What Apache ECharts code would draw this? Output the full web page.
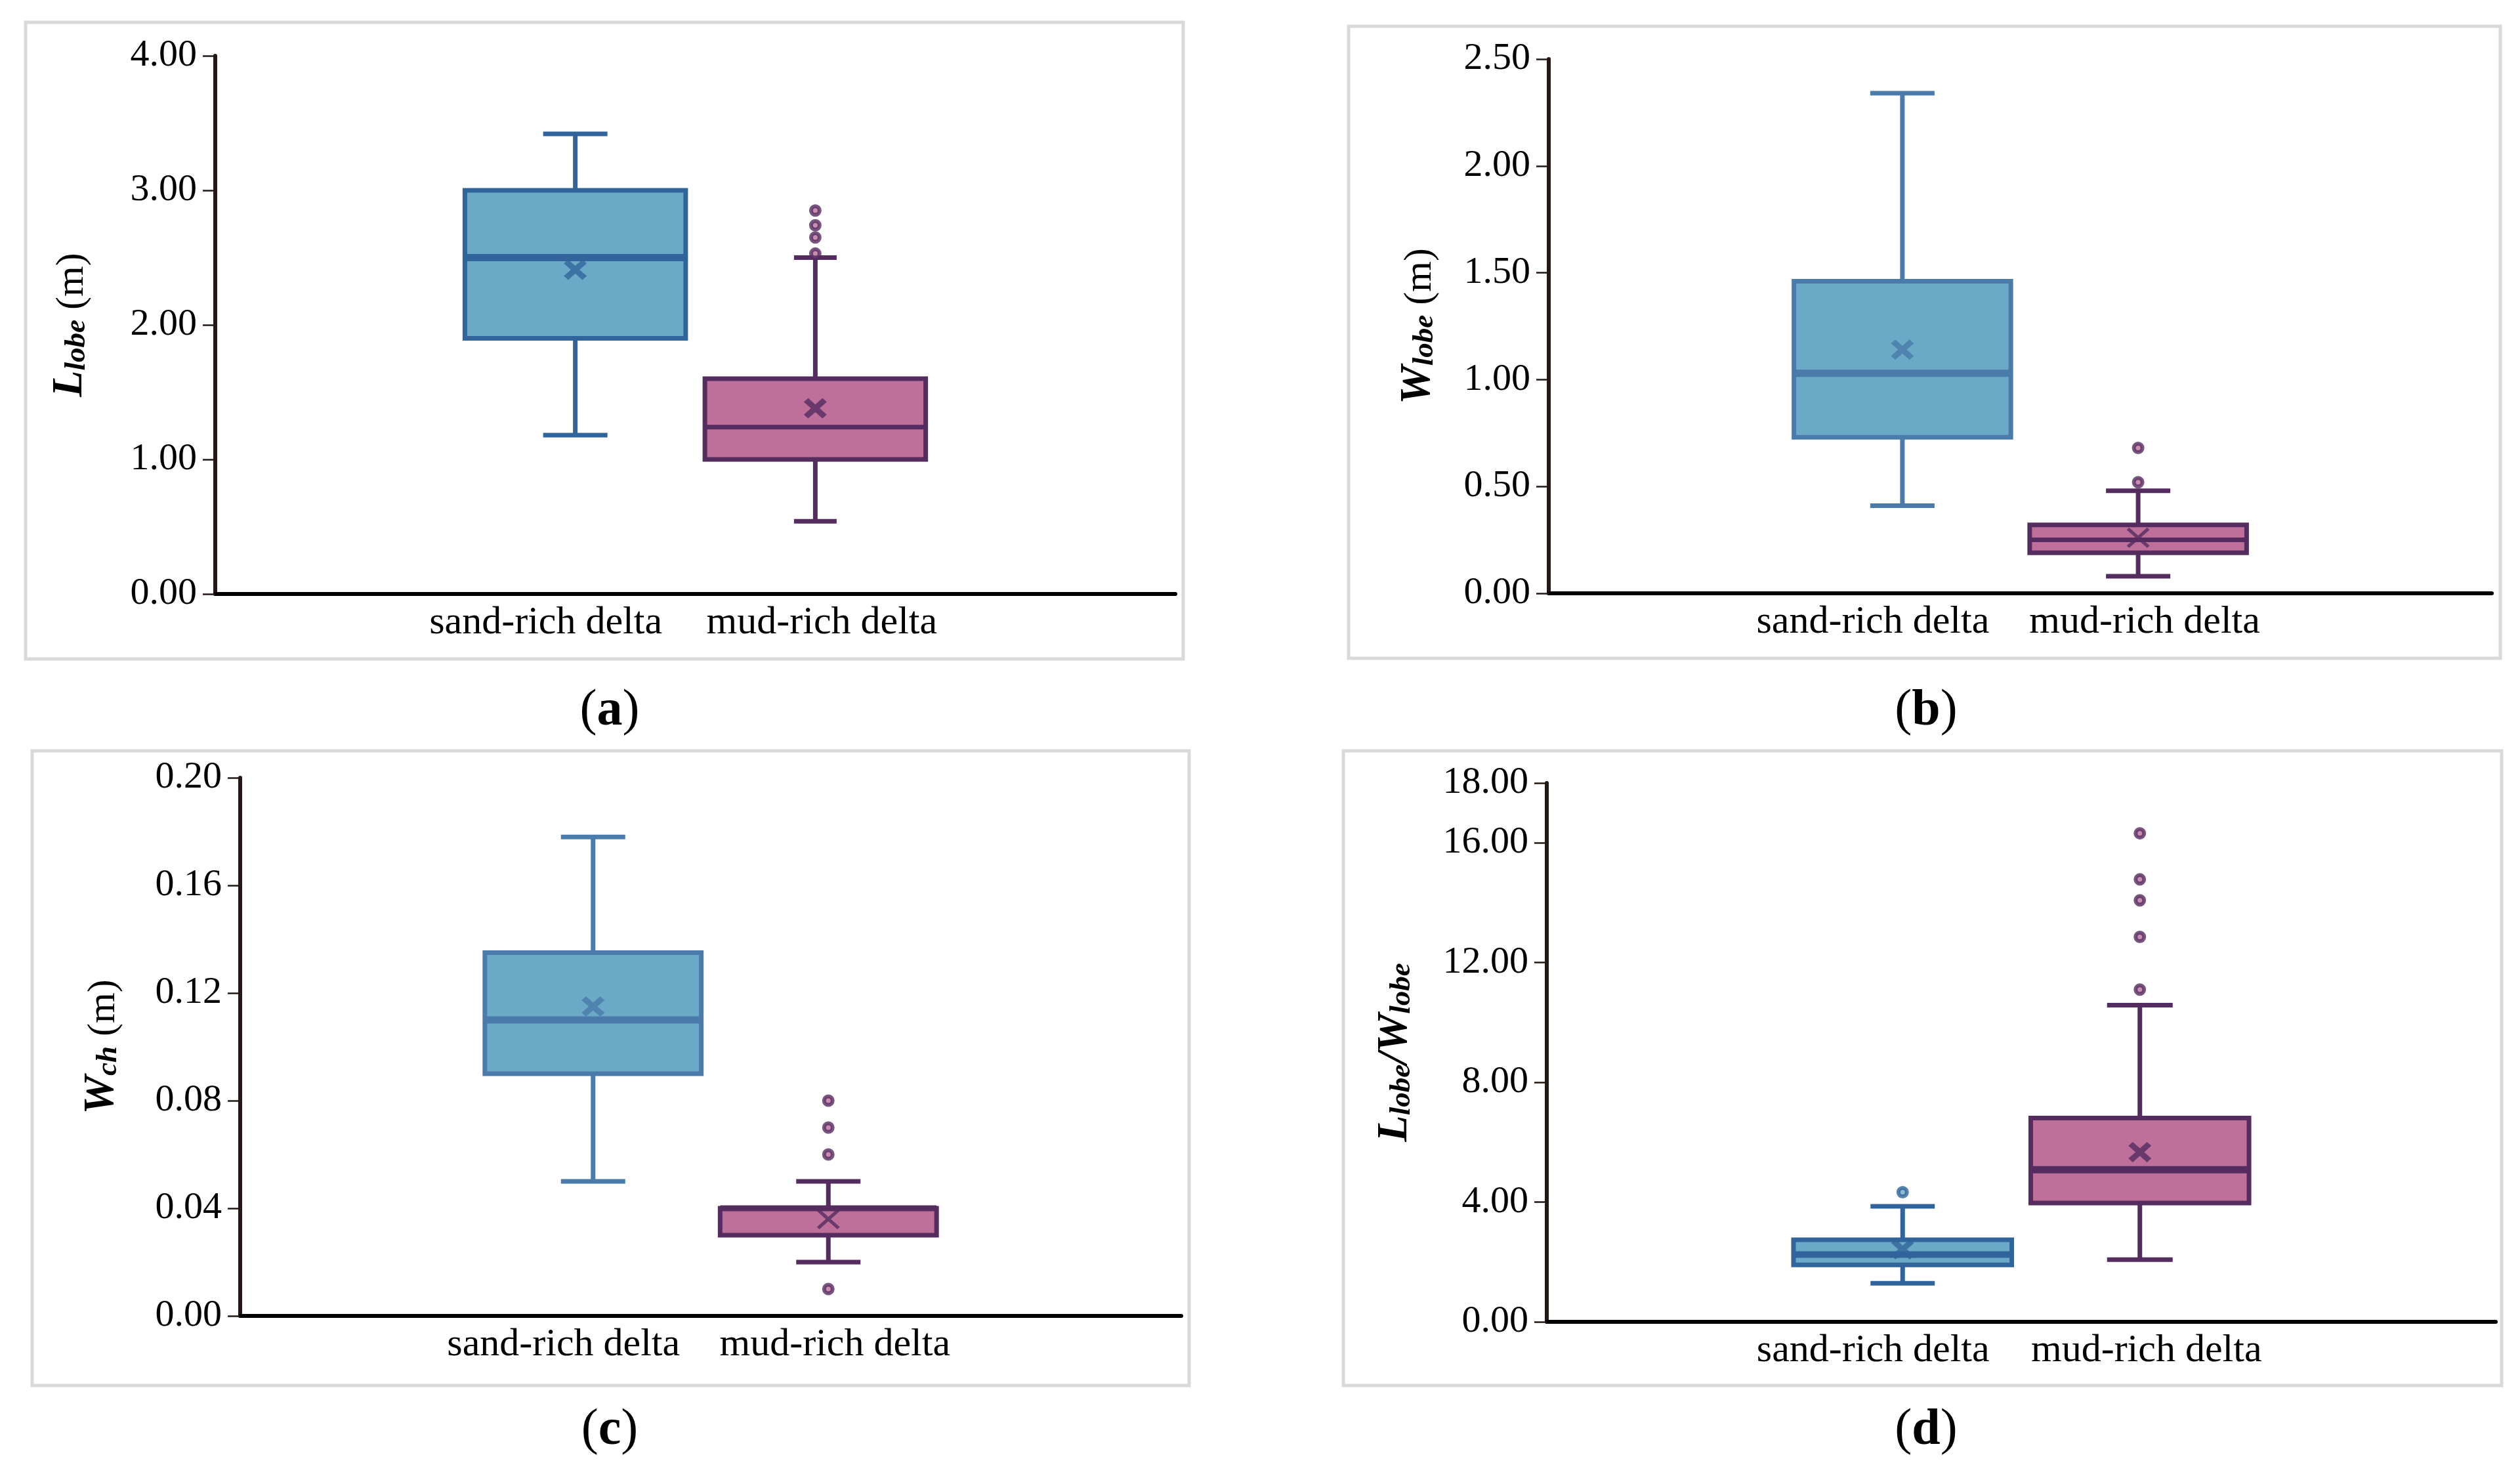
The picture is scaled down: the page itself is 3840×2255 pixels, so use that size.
<!DOCTYPE html>
<html>
<head>
<meta charset="utf-8">
<title>Lobe and channel box plots</title>
<script src="https://cdn.jsdelivr.net/npm/echarts@6/dist/echarts.min.js"></script>
<style>
html, body { margin: 0; padding: 0; background: #fff; }
#chart { width: 3840px; height: 2255px; }
</style>
</head>
<body>
<div id="chart"></div>
<script>
var categories = ['', 'sand-rich delta', 'mud-rich delta', ''];

// box values: [lower whisker, Q1, median, Q3, upper whisker]
// (a) lobe length
var lobeLengthSand = [1.18, 1.90, 2.50, 3.00, 3.42];
var lobeLengthMud = [0.54, 1.00, 1.24, 1.60, 2.50];
var lobeLengthMean = [2.41, 1.38];
var lobeLengthOutSand = [];
var lobeLengthOutMud = [2.53, 2.65, 2.74, 2.85];
var lobeLengthTicks = [0, 1, 2, 3, 4];

// (b) lobe width
var lobeWidthSand = [0.41, 0.73, 1.03, 1.46, 2.34];
var lobeWidthMud = [0.08, 0.19, 0.25, 0.32, 0.48];
var lobeWidthMean = [1.14, 0.26];
var lobeWidthOutSand = [];
var lobeWidthOutMud = [0.52, 0.68];
var lobeWidthTicks = [0, 0.5, 1, 1.5, 2, 2.5];

// (c) channel width
var chWidthSand = [0.05, 0.09, 0.11, 0.135, 0.178];
var chWidthMud = [0.02, 0.03, 0.04, 0.04, 0.05];
var chWidthMean = [0.115, 0.036];
var chWidthOutSand = [];
var chWidthOutMud = [0.08, 0.07, 0.06, 0.01];
var chWidthTicks = [0, 0.04, 0.08, 0.12, 0.16, 0.2];

// (d) lobe length / lobe width
var ratioSand = [1.29, 1.90, 2.25, 2.74, 3.86];
var ratioMud = [2.08, 3.97, 5.08, 6.81, 10.58];
var ratioMean = [2.42, 5.67];
var ratioOutSand = [4.33];
var ratioOutMud = [11.10, 12.86, 14.08, 14.78, 16.32];
var ratioTicks = [0, 4, 8, 12, 16, 18];

var serif = "'Liberation Serif', 'Times New Roman', serif";
var sandFill = '#6BAAC6', sandDark = '#31649B', sandSoft = '#4A7BAA';
var mudFill = '#BE709B', mudDark = '#552C60';

var xThick = 'path://M0,1.9L1.9,0L5,3.1L8.1,0L10,1.9L6.9,5L10,8.1L8.1,10L5,6.9L1.9,10L0,8.1L3.1,5Z';
var xThin = 'path://M0,1.1L1.1,0L5,3.9L8.9,0L10,1.1L6.1,5L10,8.9L8.9,10L5,6.1L1.1,10L0,8.9L3.9,5Z';

function boxItem(color, fill, lineW, medW, capW) {
  return function (params, api) {
    var c = api.value(0);
    var lo = api.coord([c, api.value(1)]);
    var q1 = api.coord([c, api.value(2)]);
    var md = api.coord([c, api.value(3)]);
    var q3 = api.coord([c, api.value(4)]);
    var hi = api.coord([c, api.value(5)]);
    var half = api.size([1, 0])[0] * 0.46;
    var x = lo[0];
    var ls = { stroke: color, lineWidth: lineW };
    return {
      type: 'group',
      children: [
        { type: 'line', shape: { x1: x, y1: hi[1], x2: x, y2: q3[1] }, style: ls },
        { type: 'line', shape: { x1: x, y1: q1[1], x2: x, y2: lo[1] }, style: ls },
        { type: 'line', shape: { x1: x - capW / 2, y1: hi[1], x2: x + capW / 2, y2: hi[1] }, style: ls },
        { type: 'line', shape: { x1: x - capW / 2, y1: lo[1], x2: x + capW / 2, y2: lo[1] }, style: ls },
        { type: 'rect', shape: { x: x - half, y: q3[1], width: half * 2, height: q1[1] - q3[1] },
          style: { fill: fill, stroke: color, lineWidth: lineW } },
        { type: 'line', shape: { x1: x - half, y1: md[1], x2: x + half, y2: md[1] },
          style: { stroke: color, lineWidth: medW } }
      ]
    };
  };
}

var nameRich = {
  L: { fontFamily: serif, fontWeight: 'bold', fontStyle: 'italic', fontSize: 66, color: '#000', verticalAlign: 'bottom', lineHeight: 66 },
  s: { fontFamily: serif, fontWeight: 'bold', fontStyle: 'italic', fontSize: 45, color: '#000', verticalAlign: 'bottom', lineHeight: 57 },
  n: { fontFamily: serif, fontSize: 60, color: '#000', verticalAlign: 'bottom', lineHeight: 64 }
};

var panels = [
  { grid: [328, 85, 1463, 820], sand: lobeLengthSand, mud: lobeLengthMud, mean: lobeLengthMean,
    outSand: lobeLengthOutSand, outMud: lobeLengthOutMud, ticks: lobeLengthTicks,
    name: '{L|L}{s|lobe}{n| (m)}', gap: 188, sandColor: sandDark, sandMed: 11, mudMed: 7,
    mudCap: 65, mudMark: xThick },
  { grid: [2360, 90, 1437, 814], sand: lobeWidthSand, mud: lobeWidthMud, mean: lobeWidthMean,
    outSand: lobeWidthOutSand, outMud: lobeWidthOutMud, ticks: lobeWidthTicks,
    name: '{L|W}{s|lobe}{n| (m)}', gap: 166, sandColor: sandSoft, sandMed: 11, mudMed: 7,
    mudCap: 98, mudMark: xThin },
  { grid: [366, 1185, 1434, 820], sand: chWidthSand, mud: chWidthMud, mean: chWidthMean,
    outSand: chWidthOutSand, outMud: chWidthOutMud, ticks: chWidthTicks,
    name: '{L|W}{s|ch}{n| (m)}', gap: 178, sandColor: sandSoft, sandMed: 11, mudMed: 9,
    mudCap: 98, mudMark: xThin },
  { grid: [2357, 1193, 1446, 821], sand: ratioSand, mud: ratioMud, mean: ratioMean,
    outSand: ratioOutSand, outMud: ratioOutMud, ticks: ratioTicks,
    name: '{L|L}{s|lobe}{L|/W}{s|lobe}', gap: 198, sandColor: sandDark, sandMed: 10, mudMed: 11,
    mudCap: 100, mudMark: xThick }
];

var grids = [], xAxes = [], yAxes = [], series = [];

panels.forEach(function (p, i) {
  grids.push({ left: p.grid[0], top: p.grid[1], width: p.grid[2], height: p.grid[3], containLabel: false });
  xAxes.push({
    gridIndex: i, type: 'category', data: categories,
    axisLine: { show: true, onZero: false, lineStyle: { color: '#000', width: 6 } },
    axisTick: { show: false },
    splitLine: { show: false },
    axisLabel: {
      interval: 0, margin: 14, fontFamily: serif, fontSize: 60, color: '#000',
      formatter: function (v) {
        if (v === categories[1]) return '{sd|' + v + '}';
        if (v === categories[2]) return '{md|' + v + '}';
        return '';
      },
      rich: {
        sd: { fontFamily: serif, fontSize: 60, color: '#000', padding: [0, 90, 0, 0] },
        md: { fontFamily: serif, fontSize: 60, color: '#000', padding: [0, 0, 8, 20] }
      }
    }
  });
  yAxes.push({
    gridIndex: i, type: 'value',
    min: p.ticks[0], max: p.ticks[p.ticks.length - 1],
    axisLine: { show: true, lineStyle: { color: '#231815', width: 6 } },
    axisTick: { show: true, length: 19, customValues: p.ticks, lineStyle: { color: '#231815', width: 2.5 } },
    axisLabel: {
      margin: 28, fontFamily: serif, fontSize: 58, color: '#000', customValues: p.ticks,
      formatter: function (v) { return v.toFixed(2); }
    },
    splitLine: { show: false },
    name: p.name, nameLocation: 'middle', nameRotate: 90, nameGap: p.gap,
    nameTextStyle: { rich: nameRich }
  });

  series.push({
    type: 'custom', xAxisIndex: i, yAxisIndex: i,
    renderItem: boxItem(p.sandColor, sandFill, 7, p.sandMed, 98),
    encode: { x: 0, y: [1, 2, 3, 4, 5] },
    data: [[1].concat(p.sand)], z: 2
  });
  series.push({
    type: 'custom', xAxisIndex: i, yAxisIndex: i,
    renderItem: boxItem(mudDark, mudFill, 7, p.mudMed, p.mudCap),
    encode: { x: 0, y: [1, 2, 3, 4, 5] },
    data: [[2].concat(p.mud)], z: 2
  });
  series.push({
    type: 'scatter', xAxisIndex: i, yAxisIndex: i, z: 4,
    data: [
      { value: [1, p.mean[0]], symbol: xThick, itemStyle: { color: p.sandColor } },
      { value: [2, p.mean[1]], symbol: p.mudMark, itemStyle: { color: mudDark } }
    ],
    symbolSize: [35, 31], silent: true
  });
  series.push({
    type: 'scatter', xAxisIndex: i, yAxisIndex: i, z: 5,
    data: p.outSand.map(function (v) { return [1, v]; }),
    symbol: 'circle', symbolSize: 13,
    itemStyle: { color: sandFill, borderColor: sandDark, borderWidth: 6 }
  });
  series.push({
    type: 'scatter', xAxisIndex: i, yAxisIndex: i, z: 5,
    data: p.outMud.map(function (v) { return [2, v]; }),
    symbol: 'circle', symbolSize: 13,
    itemStyle: { color: mudFill, borderColor: mudDark, borderWidth: 6 }
  });
});

var frames = [[39, 34, 1764, 970], [2055, 40, 1755, 963], [49, 1144, 1763, 967], [2047, 1144, 1765, 967]];
var letters = ['a', 'b', 'c', 'd'];
var letterPos = [[929, 1084], [2935, 1084], [929, 2180], [2935, 2180]];

var graphics = [];
frames.forEach(function (f) {
  graphics.push({
    type: 'rect', silent: true, z: -1,
    shape: { x: f[0], y: f[1], width: f[2], height: f[3] },
    style: { fill: 'none', stroke: '#D9D9D9', lineWidth: 5 }
  });
});
letters.forEach(function (l, i) {
  graphics.push({
    type: 'text', x: letterPos[i][0], y: letterPos[i][1], silent: true,
    style: {
      text: '{p|(}{b|' + l + '}{p|)}', align: 'center', verticalAlign: 'middle',
      rich: {
        p: { fontFamily: serif, fontSize: 78, fill: '#000' },
        b: { fontFamily: serif, fontSize: 78, fontWeight: 'bold', fill: '#000' }
      }
    }
  });
});

var myChart = echarts.init(document.getElementById('chart'));
var option = {
  backgroundColor: '#fff',
  animation: false,
  grid: grids,
  xAxis: xAxes,
  yAxis: yAxes,
  series: series,
  graphic: graphics
};
myChart.setOption(option);
</script>
</body>
</html>
